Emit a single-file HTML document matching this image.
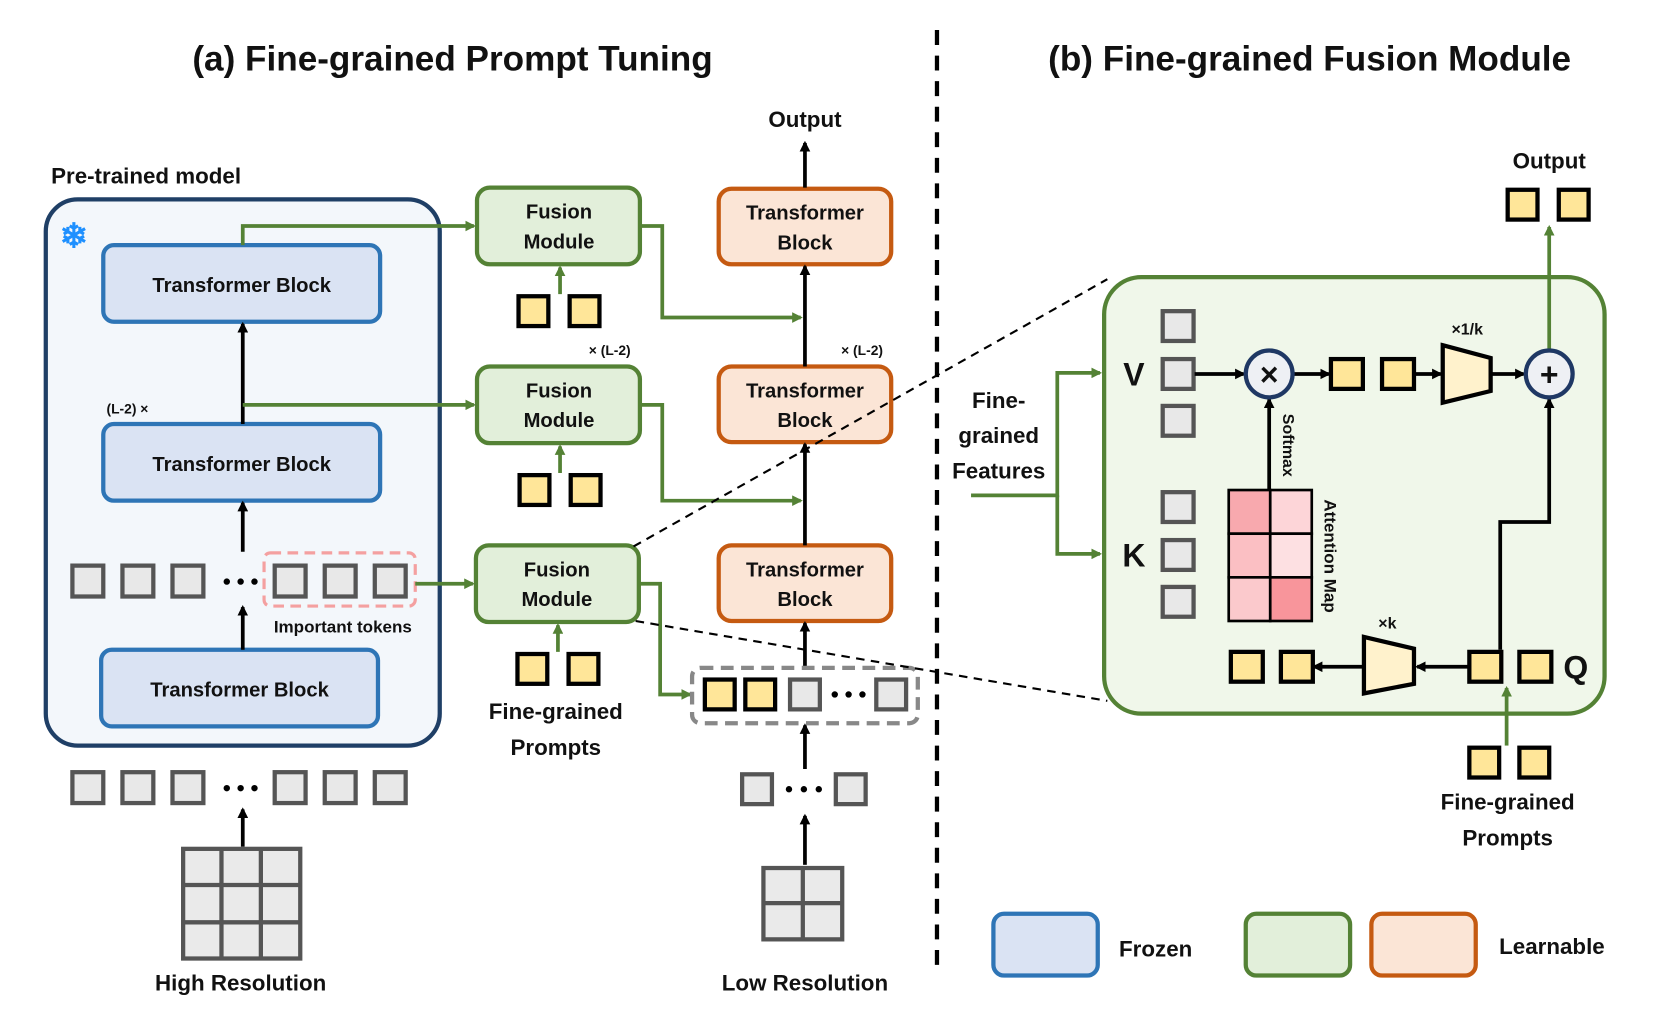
<!DOCTYPE html>
<html><head><meta charset="utf-8"><style>html,body{margin:0;padding:0;background:#fff}svg{display:block}text{font-family:"Liberation Sans",sans-serif;font-weight:bold;fill:#111}</style></head>
<body>
<svg width="1661" height="1012" viewBox="0 0 1560 950" xmlns="http://www.w3.org/2000/svg">
<defs>
<marker id="ab" markerWidth="10" markerHeight="10" refX="8" refY="5" orient="auto" markerUnits="userSpaceOnUse"><path d="M0,0 L10,5 L0,10 z" fill="#000"/></marker>
<marker id="ag" markerWidth="10" markerHeight="10" refX="8" refY="5" orient="auto" markerUnits="userSpaceOnUse"><path d="M0,0 L10,5 L0,10 z" fill="#548235"/></marker>
</defs>
<g text-anchor="middle">
<text x="425" y="66" font-size="33">(a) Fine-grained Prompt Tuning</text>
<text x="1230" y="66" font-size="33">(b) Fine-grained Fusion Module</text>
</g>
<line x1="880" y1="28" x2="880" y2="912" stroke="#000" stroke-width="4" stroke-dasharray="14 10"/>
<rect x="1037" y="260" width="470" height="410" rx="35" fill="#f0f7ea" stroke="#548235" stroke-width="4"/>

<text x="48" y="172" font-size="21">Pre-trained model</text>
<rect x="43" y="187" width="370" height="513" rx="30" fill="#f3f7fb" stroke="#1f3f66" stroke-width="4"/>
<text x="56" y="232" font-size="32" style="fill:#1e90ff">❄</text>

<g fill="#dae3f3" stroke="#2e75b6" stroke-width="4">
<rect x="97" y="230" width="260" height="72" rx="10"/>
<rect x="97" y="398" width="260" height="72" rx="10"/>
<rect x="95" y="610" width="260" height="72" rx="10"/>
</g>
<g text-anchor="middle" font-size="19">
<text x="227" y="274">Transformer Block</text>
<text x="227" y="442">Transformer Block</text>
<text x="225" y="654">Transformer Block</text>
</g>
<g stroke="#000" stroke-width="3.5" marker-end="url(#ab)">
<line x1="228" y1="398" x2="228" y2="304"/>
<line x1="228" y1="518" x2="228" y2="472"/>
<line x1="228" y1="610" x2="228" y2="570"/>
<line x1="228" y1="795" x2="228" y2="760"/>
</g>
<text x="100" y="388" font-size="13">(L-2) ×</text>

<g fill="#e8e8e8" stroke="#555" stroke-width="4">
<rect x="68" y="531" width="29" height="29"/><rect x="115" y="531" width="29" height="29"/><rect x="162" y="531" width="29" height="29"/>
<rect x="258" y="531" width="29" height="29"/><rect x="305" y="531" width="29" height="29"/><rect x="352" y="531" width="29" height="29"/>
<rect x="68" y="725" width="29" height="29"/><rect x="115" y="725" width="29" height="29"/><rect x="162" y="725" width="29" height="29"/>
<rect x="258" y="725" width="29" height="29"/><rect x="305" y="725" width="29" height="29"/><rect x="352" y="725" width="29" height="29"/>
</g>
<g fill="#000"><circle cx="213" cy="546" r="3"/><circle cx="226" cy="546" r="3"/><circle cx="239" cy="546" r="3"/>
<circle cx="213" cy="740" r="3"/><circle cx="226" cy="740" r="3"/><circle cx="239" cy="740" r="3"/></g>
<rect x="248" y="519" width="142" height="50" rx="6" fill="none" stroke="#f4a0a0" stroke-width="3" stroke-dasharray="10 6"/>
<text x="322" y="594" font-size="16" text-anchor="middle">Important tokens</text>

<g fill="#eaeaea" stroke="#555" stroke-width="4">
<rect x="172" y="797" width="110" height="103"/>
<line x1="208" y1="797" x2="208" y2="900"/><line x1="245" y1="797" x2="245" y2="900"/>
<line x1="172" y1="831" x2="282" y2="831"/><line x1="172" y1="866" x2="282" y2="866"/>
</g>
<text x="226" y="930" font-size="21" text-anchor="middle">High Resolution</text>

<g fill="none" stroke="#548235" stroke-width="3.5" marker-end="url(#ag)">
<polyline points="228,230 228,212 445,212"/>
<line x1="228" y1="380" x2="445" y2="380"/>
<line x1="390" y1="548" x2="444" y2="548"/>
<polyline points="601,212 622,212 622,298 752,298"/>
<polyline points="601,380 622,380 622,470 752,470"/>
<polyline points="600,548 620,548 620,652 648,652"/>
<line x1="526" y1="276" x2="526" y2="251"/>
<line x1="526" y1="444" x2="526" y2="419"/>
<line x1="524" y1="612" x2="524" y2="587"/>
<line x1="1455" y1="330" x2="1455" y2="213"/>
<line x1="1415" y1="700" x2="1415" y2="646"/>
<polyline points="912,465 993,465 993,350 1033,350"/>
<polyline points="993,465 993,520 1033,520"/>
</g>

<g fill="#e2efda" stroke="#548235" stroke-width="4">
<rect x="448" y="176" width="153" height="72" rx="12"/>
<rect x="448" y="344" width="153" height="72" rx="12"/>
<rect x="447" y="512" width="153" height="72" rx="12"/>
</g>
<g text-anchor="middle" font-size="19">
<text x="525" y="205">Fusion</text><text x="525" y="233">Module</text>
<text x="525" y="373">Fusion</text><text x="525" y="401">Module</text>
<text x="523" y="541">Fusion</text><text x="523" y="569">Module</text>
</g>
<g fill="#ffe699" stroke="#000" stroke-width="4">
<rect x="487" y="278" width="28" height="28"/><rect x="535" y="278" width="28" height="28"/>
<rect x="488" y="446" width="28" height="28"/><rect x="536" y="446" width="28" height="28"/>
<rect x="486" y="614" width="28" height="28"/><rect x="534" y="614" width="28" height="28"/>
<rect x="662" y="638" width="28" height="28"/><rect x="700" y="638" width="28" height="28"/>
<rect x="1416" y="178" width="28" height="28"/><rect x="1464" y="178" width="28" height="28"/>
<rect x="1250" y="337" width="30" height="28"/><rect x="1298" y="337" width="30" height="28"/>
<rect x="1156" y="612" width="30" height="28"/><rect x="1203" y="612" width="30" height="28"/>
<rect x="1380" y="612" width="30" height="28"/><rect x="1427" y="612" width="30" height="28"/>
<rect x="1380" y="702" width="28" height="28"/><rect x="1427" y="702" width="28" height="28"/>
</g>
<text x="553" y="333" font-size="13">× (L-2)</text>
<text x="790" y="333" font-size="13">× (L-2)</text>
<g text-anchor="middle" font-size="21">
<text x="522" y="675">Fine-grained</text><text x="522" y="709">Prompts</text>
<text x="756" y="119">Output</text>
<text x="756" y="930">Low Resolution</text>
<text x="1455" y="158">Output</text>
<text x="1416" y="760">Fine-grained</text><text x="1416" y="794">Prompts</text>
<text x="938" y="383">Fine-</text><text x="938" y="416">grained</text><text x="938" y="449">Features</text>
</g>

<g fill="#fbe5d6" stroke="#c55a11" stroke-width="4">
<rect x="675" y="177" width="162" height="71" rx="12"/>
<rect x="675" y="344" width="162" height="71" rx="12"/>
<rect x="675" y="512" width="162" height="71" rx="12"/>
</g>
<g text-anchor="middle" font-size="19">
<text x="756" y="206">Transformer</text><text x="756" y="234">Block</text>
<text x="756" y="373">Transformer</text><text x="756" y="401">Block</text>
<text x="756" y="541">Transformer</text><text x="756" y="569">Block</text>
</g>
<g stroke="#000" stroke-width="3.5" marker-end="url(#ab)">
<line x1="756" y1="176" x2="756" y2="134"/>
<line x1="756" y1="344" x2="756" y2="250"/>
<line x1="756" y1="512" x2="756" y2="417"/>
<line x1="756" y1="628" x2="756" y2="585"/>
<line x1="756" y1="722" x2="756" y2="681"/>
<line x1="756" y1="812" x2="756" y2="766"/>
</g>
<rect x="650" y="627" width="212" height="52" rx="8" fill="none" stroke="#888" stroke-width="4" stroke-dasharray="12 7"/>
<g fill="#e8e8e8" stroke="#555" stroke-width="4">
<rect x="742" y="638" width="28" height="28"/><rect x="823" y="638" width="28" height="28"/>
<rect x="697" y="727" width="28" height="28"/><rect x="785" y="727" width="28" height="28"/>
</g>
<g fill="#000"><circle cx="784" cy="652" r="3"/><circle cx="797" cy="652" r="3"/><circle cx="810" cy="652" r="3"/>
<circle cx="741" cy="741" r="3"/><circle cx="755" cy="741" r="3"/><circle cx="769" cy="741" r="3"/></g>
<g fill="#eaeaea" stroke="#555" stroke-width="4">
<rect x="717" y="815" width="74" height="67"/>
<line x1="754" y1="815" x2="754" y2="882"/><line x1="717" y1="848" x2="791" y2="848"/>
</g>

<g stroke="#000" stroke-width="2" stroke-dasharray="8 6">
<line x1="595" y1="513" x2="1040" y2="262"/>
<line x1="597" y1="583" x2="1040" y2="658"/>
</g>

<text x="1065" y="362" font-size="30" text-anchor="middle">V</text>
<text x="1065" y="532" font-size="30" text-anchor="middle">K</text>
<text x="1480" y="637" font-size="30" text-anchor="middle">Q</text>
<g fill="#e8e8e8" stroke="#555" stroke-width="4">
<rect x="1092" y="292" width="29" height="28"/><rect x="1092" y="337" width="29" height="28"/><rect x="1092" y="381" width="29" height="28"/>
<rect x="1092" y="462" width="29" height="28"/><rect x="1092" y="507" width="29" height="28"/><rect x="1092" y="551" width="29" height="28"/>
</g>
<g stroke="#000" stroke-width="3.5" fill="none" marker-end="url(#ab)">
<line x1="1122" y1="351" x2="1168" y2="351"/>
<line x1="1214" y1="351" x2="1248" y2="351"/>
<line x1="1328" y1="351" x2="1353" y2="351"/>
<line x1="1400" y1="351" x2="1431" y2="351"/>
<line x1="1192" y1="460" x2="1192" y2="375"/>
<polyline points="1409,610 1409,490 1455,490 1455,375"/>
<line x1="1380" y1="626" x2="1331" y2="626"/>
<line x1="1281" y1="626" x2="1234" y2="626"/>
</g>
<circle cx="1192" cy="351" r="22" fill="#eef0f4" stroke="#1f3864" stroke-width="4"/>
<text x="1192" y="362" font-size="30" text-anchor="middle">×</text>
<circle cx="1455" cy="351" r="22" fill="#eef0f4" stroke="#1f3864" stroke-width="4"/>
<text x="1455" y="362" font-size="30" text-anchor="middle">+</text>
<polygon points="1355,324 1400,336 1400,367 1355,378" fill="#fff2cc" stroke="#000" stroke-width="4"/>
<polygon points="1281,598 1328,609 1328,642 1281,651" fill="#fff2cc" stroke="#000" stroke-width="4"/>
<text x="1378" y="314" font-size="15" text-anchor="middle">×1/k</text>
<text x="1303" y="590" font-size="15" text-anchor="middle">×k</text>
<g stroke="#000" stroke-width="2.5">
<rect x="1154" y="460" width="39" height="41" fill="#f8a9ae"/><rect x="1193" y="460" width="39" height="41" fill="#fdd5d8"/>
<rect x="1154" y="501" width="39" height="41" fill="#fbbfc3"/><rect x="1193" y="501" width="39" height="41" fill="#fde0e2"/>
<rect x="1154" y="542" width="39" height="41" fill="#fbc9cc"/><rect x="1193" y="542" width="39" height="41" fill="#f8959b"/>
</g>
<text x="0" y="0" font-size="15" font-weight="normal" text-anchor="middle" transform="translate(1205,418) rotate(90)">Softmax</text>
<text x="0" y="0" font-size="16" font-weight="normal" text-anchor="middle" transform="translate(1244,522) rotate(90)">Attention Map</text>

<rect x="933" y="858" width="98" height="58" rx="10" fill="#dae3f3" stroke="#2e75b6" stroke-width="4"/>
<text x="1051" y="898" font-size="21">Frozen</text>
<rect x="1170" y="858" width="98" height="58" rx="10" fill="#e2efda" stroke="#548235" stroke-width="4"/>
<rect x="1288" y="858" width="98" height="58" rx="10" fill="#fbe5d6" stroke="#c55a11" stroke-width="4"/>
<text x="1408" y="896" font-size="21">Learnable</text>
</svg>
</body></html>
